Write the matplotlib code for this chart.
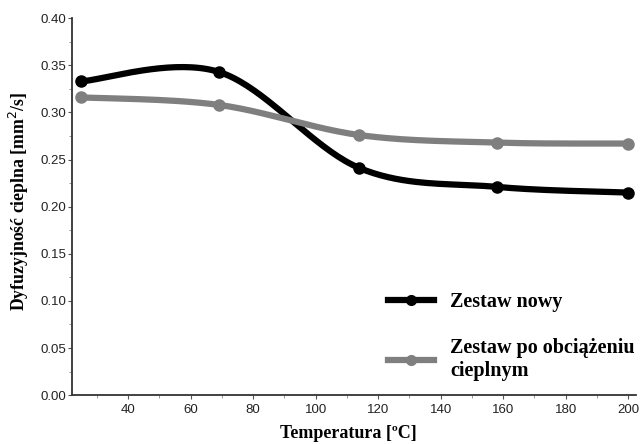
import numpy as np
import matplotlib
matplotlib.use('Agg')
import matplotlib.pyplot as plt
from matplotlib.ticker import MultipleLocator, FormatStrFormatter

# data
temperatura = [25, 69, 114, 158, 200]
zestaw_nowy = [0.333, 0.343, 0.241, 0.221, 0.215]
zestaw_obc = [0.316, 0.308, 0.276, 0.268, 0.267]

labels = ['Zestaw nowy', 'Zestaw po obciążeniu\ncieplnym']
colors = ['black', '#7f7f7f']


def smooth(x, y, n=40, k=1/6.):
    # Excel-like smoothed line (cubic bezier through the points)
    x = np.asarray(x, float)
    y = np.asarray(y, float)
    px, py = [], []
    for i in range(len(x) - 1):
        i0 = max(i - 1, 0)
        i3 = min(i + 2, len(x) - 1)
        c1x = x[i] + (x[i + 1] - x[i0]) * k
        c1y = y[i] + (y[i + 1] - y[i0]) * k
        c2x = x[i + 1] - (x[i3] - x[i]) * k
        c2y = y[i + 1] - (y[i3] - y[i]) * k
        t = np.linspace(0, 1, n)
        px.extend((1-t)**3*x[i] + 3*(1-t)**2*t*c1x + 3*(1-t)*t**2*c2x + t**3*x[i+1])
        py.extend((1-t)**3*y[i] + 3*(1-t)**2*t*c1y + 3*(1-t)*t**2*c2y + t**3*y[i+1])
    return px, py


fig = plt.figure(figsize=(6.43, 4.44), dpi=100)
ax = fig.add_axes([0.112, 0.110, 0.877, 0.849])

for ys, c, lab in zip([zestaw_nowy, zestaw_obc], colors, labels):
    sx, sy = smooth(temperatura, ys)
    ax.plot(sx, sy, color=c, lw=4.5, solid_capstyle='round', zorder=3)
    ax.plot(temperatura, ys, 'o', color=c, ms=8, zorder=4)
    # legend handle
    ax.plot([], [], '-o', color=c, lw=4.5, ms=7, label=lab)

ax.set_xlim(22, 202.5)
ax.set_ylim(0, 0.40)
ax.xaxis.set_major_locator(MultipleLocator(20))
ax.xaxis.set_minor_locator(MultipleLocator(10))
ax.yaxis.set_major_locator(MultipleLocator(0.05))
ax.yaxis.set_minor_locator(MultipleLocator(0.025))
ax.yaxis.set_major_formatter(FormatStrFormatter('%.2f'))
ax.set_xticks([40, 60, 80, 100, 120, 140, 160, 180, 200])

for s in ['top', 'right']:
    ax.spines[s].set_visible(False)
for s in ['left', 'bottom']:
    ax.spines[s].set_linewidth(1.3)
    ax.spines[s].set_color('#333333')

ax.tick_params(axis='both', which='major', labelsize=9.5, length=3, width=0.8,
               colors='#555555', labelcolor='#222222')
ax.tick_params(axis='y', which='major', pad=1)
ax.tick_params(axis='both', which='minor', length=2, width=0.6, colors='#888888')
for lab in ax.get_xticklabels() + ax.get_yticklabels():
    lab.set_family('Liberation Sans')

ax.set_xlabel('Temperatura [ºC]', family='Liberation Serif', fontweight='bold',
              fontsize=13)
ax.xaxis.set_label_coords(0.49, -0.08)
ax.set_ylabel('Dyfuzyjność cieplna [mm$^2$/s]', family='Liberation Serif',
              fontweight='bold', fontsize=12.8)
ax.yaxis.set_label_coords(-0.072, 0.515)

leg = ax.legend(loc='lower right', bbox_to_anchor=(1.03, -0.01), frameon=False,
                prop={'family': 'Liberation Serif', 'weight': 'bold', 'size': 14.5},
                handlelength=2.3, labelspacing=1.3, handletextpad=0.8)

fig.savefig('out.png', dpi=100)
